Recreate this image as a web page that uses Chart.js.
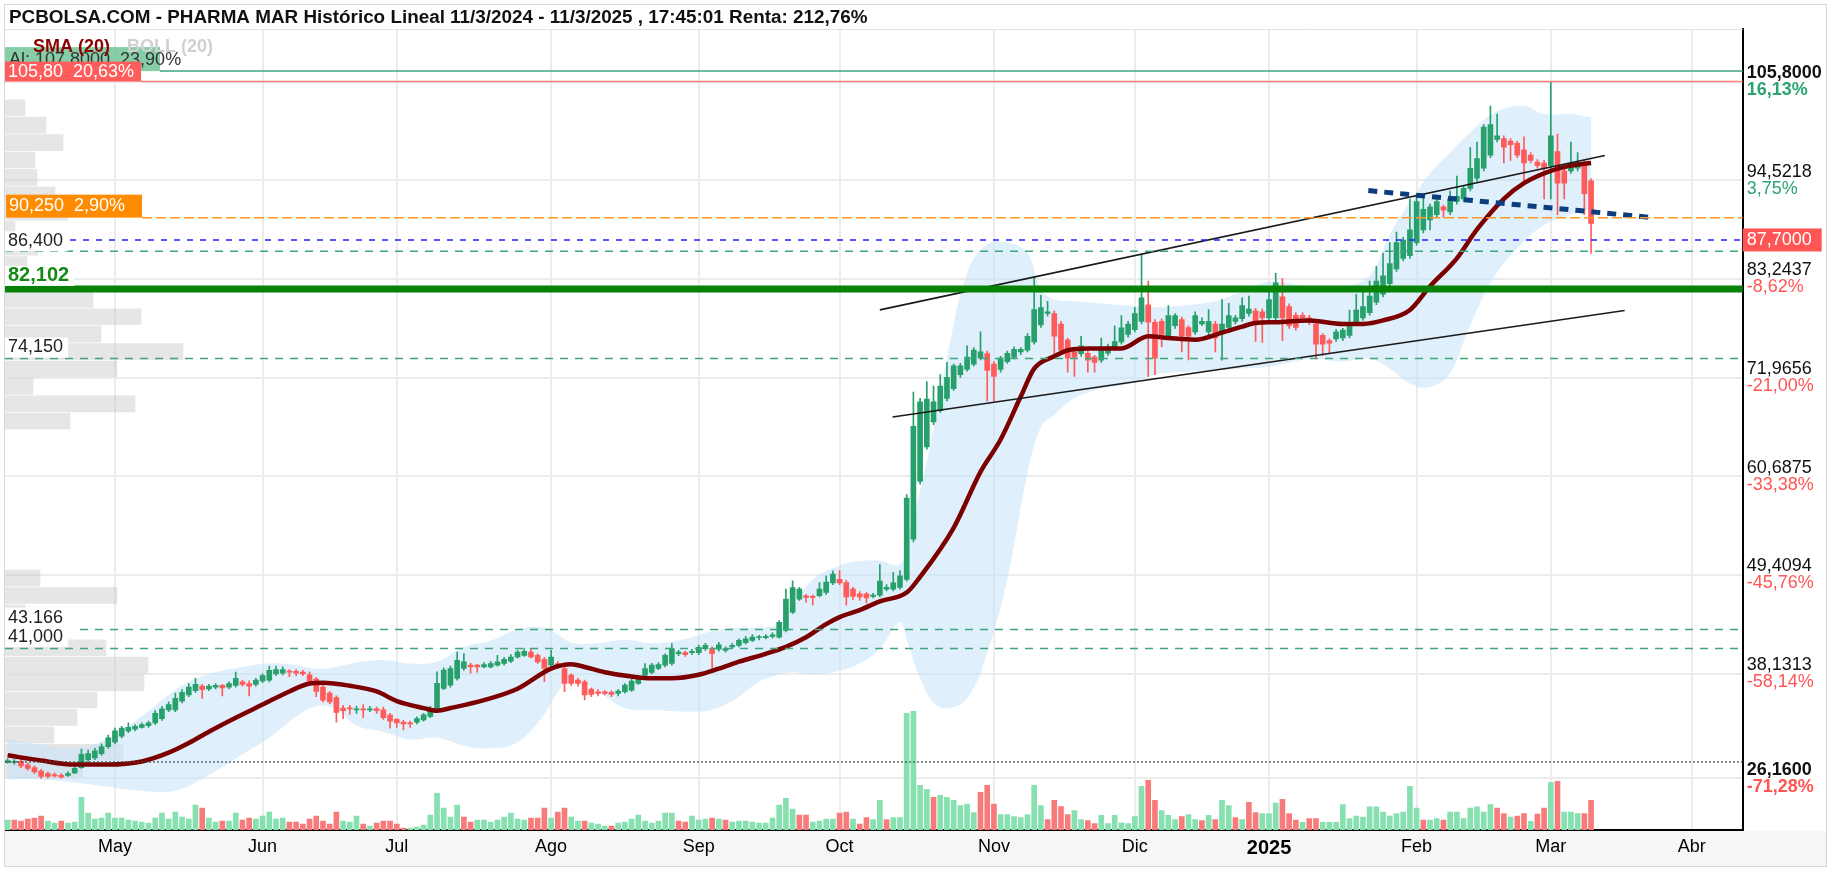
<!DOCTYPE html>
<html>
<head>
<meta charset="utf-8">
<script src="https://cdn.jsdelivr.net/npm/chart.js@4.4.1/dist/chart.umd.min.js"></script>
<style>
  html, body { margin: 0; padding: 0; background: #fff; }
</style>
</head>
<body>
<canvas id="c" width="1832" height="872"></canvas>
<script>
// sesiones desde el 9/4/2024 (indice 0) hasta el 11/3/2025 (indice 236)
const monthTicks = [16, 38, 58, 81, 103, 124, 147, 168, 188, 210, 230, 251];
const monthLabels = ['May', 'Jun', 'Jul', 'Ago', 'Sep', 'Oct', 'Nov', 'Dic', '2025', 'Feb', 'Mar', 'Abr'];

const opens = [
  28.0, 28.0, 28.1, 27.7, 27.4, 27.0, 26.7, 26.6, 26.5, 26.5,
  26.8, 27.4, 28.3, 28.5, 29.0, 29.8, 30.3, 31.0, 31.6, 31.8,
  32.0, 32.2, 32.5, 33.0, 34.0, 34.0, 35.0, 35.7, 36.2, 36.7,
  36.4, 36.6, 36.8, 36.6, 36.8, 37.2, 37.0, 36.9, 37.3, 37.4,
  38.1, 38.2, 38.4, 38.4, 38.3, 38.0, 37.5, 36.6, 35.9, 35.4,
  34.2, 34.2, 34.0, 34.1, 34.0, 34.1, 34.0, 33.4, 32.9, 32.6,
  32.5, 32.6, 32.86, 33.24, 34.18, 36.45, 36.83, 37.59, 38.72, 39.1,
  39.1, 38.91, 38.91, 39.1, 39.29, 39.55, 40.04, 40.23, 40.61, 40.23,
  39.78, 39.1, 39.29, 38.72, 37.96, 37.4, 37.21, 36.38, 36.07, 36.07,
  36.0, 35.88, 36.07, 36.26, 37.02, 37.96, 38.27, 38.72, 39.1, 39.29,
  40.42, 40.54, 40.54, 40.54, 40.99, 40.99, 40.92, 40.8, 41.18, 41.37,
  41.67, 41.93, 42.24, 42.24, 42.39, 42.31, 43.07, 45.15, 46.66, 47.04,
  46.96, 47.04, 47.42, 48.5, 48.9, 48.55, 47.8, 47.25, 47.25, 46.97,
  47.1, 47.8, 47.8, 48.0, 48.9, 53.5, 60.1, 64.05, 66.9, 68.2,
  69.6, 70.7, 72.3, 72.9, 73.5, 74.2, 74.7, 73.5, 72.9, 73.8,
  74.3, 74.9, 75.1, 76.05, 77.99, 79.3, 79.3, 78.1, 76.3, 74.9,
  74.7, 74.75, 74.3, 73.96, 74.75, 75.35, 76.05, 76.9, 77.44, 78.4,
  80.3, 78.3, 78.4, 76.74, 77.9, 78.6, 77.7, 77.2, 78.1, 77.2,
  78.1, 77.2, 77.7, 78.4, 78.7, 79.3, 79.6, 79.5, 78.8, 78.8,
  81.2, 80.1, 79.1, 79.1, 78.8, 78.1, 76.8, 76.2, 76.4, 76.5,
  76.8, 78.3, 78.8, 79.4, 80.6, 81.5, 82.7, 84.4, 85.6, 85.9,
  87.4, 88.85, 90.0, 90.6, 91.5, 90.9, 92.1, 92.4, 93.6, 94.75,
  95.9, 97.4, 99.2, 99.3, 99.0, 98.75, 98.0, 97.4, 96.6, 96.5,
  96.2, 97.8, 95.6, 95.6, 95.9, 96.5, 94.45
];
const highs = [
  28.4, 28.3, 28.3, 27.9, 27.6, 27.2, 26.9, 26.8, 26.7, 26.9,
  27.5, 29.5, 29.4, 29.6, 30.1, 31.1, 31.9, 32.1, 32.5, 32.3,
  32.5, 32.7, 33.9, 34.4, 34.9, 35.9, 36.3, 37.0, 37.6, 36.9,
  36.9, 37.0, 36.9, 37.2, 38.3, 37.4, 37.3, 37.6, 38.1, 39.0,
  39.0, 38.9, 38.6, 38.6, 38.5, 38.3, 37.7, 36.8, 36.1, 35.6,
  34.5, 34.5, 34.4, 34.6, 34.4, 34.3, 34.3, 33.6, 33.0, 32.8,
  32.7, 33.2, 33.6, 34.4, 38.34, 38.8, 39.0, 40.61, 40.42, 39.3,
  39.2, 39.4, 39.5, 40.23, 40.0, 40.3, 40.8, 41.0, 40.9, 40.4,
  40.0, 40.8, 39.5, 38.9, 38.1, 37.6, 37.4, 36.5, 36.3, 36.2,
  36.2, 36.3, 37.0, 37.5, 37.9, 39.29, 39.3, 39.4, 40.4, 41.56,
  40.8, 40.7, 40.9, 41.4, 41.6, 41.2, 41.7, 41.2, 41.6, 42.1,
  42.4, 42.6, 42.5, 42.6, 42.8, 44.2, 47.8, 48.74, 48.0, 47.2,
  47.1, 48.55, 49.31, 49.88, 49.9, 48.8, 48.0, 47.5, 47.4, 47.3,
  50.6, 48.3, 49.7, 49.9, 58.6, 70.3, 69.6, 71.5, 71.0, 72.3,
  73.7, 73.5, 73.6, 75.6, 75.4, 77.2, 75.0, 73.8, 74.4, 75.0,
  75.5, 75.4, 77.0, 83.45, 81.37, 80.7, 79.6, 78.4, 76.5, 75.1,
  76.7, 75.0, 74.5, 76.5, 75.8, 77.9, 79.06, 78.4, 80.0, 86.1,
  83.0, 78.6, 78.7, 80.2, 79.3, 78.9, 77.9, 79.5, 78.8, 79.75,
  78.4, 80.9, 80.45, 79.1, 81.1, 81.3, 79.9, 79.8, 82.1, 83.9,
  83.3, 80.4, 79.4, 79.4, 79.1, 78.3, 77.0, 76.4, 77.5, 77.6,
  79.7, 81.5, 82.4, 83.0, 84.7, 86.2, 87.4, 88.6, 88.0, 92.4,
  92.9, 92.9, 91.8, 92.4, 91.7, 93.3, 95.0, 93.9, 98.3, 98.9,
  100.9, 103.0, 102.1, 99.6, 99.3, 99.0, 99.5, 97.7, 96.9, 96.8,
  105.8, 99.8, 95.9, 98.9, 97.7, 96.8, 94.7
];
const lows = [
  27.9, 27.8, 27.4, 27.1, 26.7, 26.16, 26.2, 26.3, 26.2, 26.4,
  26.7, 27.3, 28.0, 28.3, 28.8, 29.6, 30.1, 30.8, 31.4, 31.6,
  31.9, 32.0, 32.3, 32.8, 33.8, 33.8, 34.8, 35.5, 36.0, 35.3,
  36.2, 36.4, 35.6, 36.4, 36.6, 36.7, 35.6, 36.7, 37.1, 37.2,
  37.9, 38.0, 37.8, 37.9, 37.9, 37.1, 35.5, 34.9, 34.7, 32.6,
  33.0, 33.5, 33.6, 33.1, 33.8, 33.6, 32.9, 31.9, 32.0, 31.7,
  32.0, 32.4, 32.7, 33.1, 34.0, 36.3, 36.6, 37.4, 38.5, 38.2,
  38.3, 38.8, 38.8, 39.0, 39.1, 39.4, 39.9, 40.1, 39.9, 39.3,
  37.21, 38.9, 38.7, 36.07, 36.8, 36.7, 35.13, 35.5, 35.6, 35.7,
  35.5, 35.6, 35.9, 36.1, 36.9, 37.8, 38.1, 38.6, 38.9, 39.1,
  40.2, 40.1, 40.3, 40.3, 40.8, 38.72, 40.7, 40.6, 41.0, 41.2,
  41.5, 41.8, 42.0, 42.1, 42.2, 42.2, 42.9, 45.0, 46.5, 46.3,
  46.0, 46.9, 47.2, 48.3, 48.3, 45.95, 46.6, 46.5, 46.2, 46.8,
  46.9, 47.6, 47.6, 47.8, 48.7, 53.2, 59.8, 63.8, 66.6, 68.0,
  69.3, 70.5, 72.0, 72.7, 73.3, 74.0, 69.3, 69.3, 72.6, 73.6,
  74.1, 74.6, 74.9, 75.8, 77.7, 79.0, 74.7, 74.9, 72.6, 72.1,
  74.4, 72.6, 72.6, 73.7, 74.5, 75.1, 75.8, 76.6, 77.2, 78.1,
  72.1, 72.3, 75.5, 76.5, 77.6, 74.9, 74.0, 76.9, 77.9, 76.5,
  74.9, 73.96, 77.4, 78.1, 78.4, 79.0, 76.1, 76.0, 78.5, 78.5,
  76.2, 77.6, 77.4, 78.4, 78.0, 74.1, 74.5, 74.7, 76.1, 76.2,
  76.5, 78.0, 78.5, 79.1, 80.3, 81.2, 82.4, 84.1, 85.3, 85.6,
  87.1, 88.5, 88.85, 90.3, 90.3, 90.6, 91.8, 92.1, 93.3, 94.4,
  95.6, 97.1, 98.9, 96.5, 96.8, 97.1, 94.2, 96.5, 95.9, 92.4,
  92.4, 90.6, 92.4, 95.3, 95.6, 90.6, 86.2
];
const closes = [
  28.2, 28.1, 27.6, 27.3, 26.9, 26.4, 26.4, 26.45, 26.3, 26.7,
  27.3, 28.9, 29.0, 29.3, 29.8, 30.8, 31.6, 31.9, 32.0, 32.1,
  32.3, 32.5, 33.6, 34.1, 34.6, 35.3, 36.0, 36.6, 36.9, 36.3,
  36.7, 36.8, 36.5, 37.0, 37.6, 36.9, 36.7, 37.4, 37.9, 38.5,
  38.6, 38.6, 38.3, 38.2, 38.1, 37.3, 36.1, 35.1, 34.9, 33.7,
  33.9, 34.1, 34.1, 34.0, 34.1, 33.9, 33.1, 32.7, 32.5, 32.4,
  32.4, 33.0, 33.43, 34.18, 37.02, 38.53, 38.72, 39.67, 39.48, 38.91,
  38.91, 39.17, 39.29, 39.48, 39.78, 40.04, 40.61, 40.69, 40.04, 39.48,
  38.72, 40.04, 38.91, 37.02, 37.02, 37.02, 35.7, 35.77, 35.88, 35.88,
  35.77, 36.15, 36.83, 37.28, 37.66, 38.72, 39.1, 39.17, 40.23, 40.99,
  40.61, 40.31, 40.69, 41.14, 41.37, 40.42, 41.44, 40.99, 41.37, 41.93,
  42.12, 42.31, 42.31, 42.39, 42.58, 44.01, 46.66, 47.98, 47.8, 46.85,
  46.85, 47.8, 48.6, 49.5, 48.5, 46.9, 46.95, 46.9, 46.8, 47.11,
  48.7, 48.0, 48.5, 49.3, 58.2, 66.4, 69.2, 69.5, 69.2, 71.0,
  72.0, 73.3, 73.3, 74.3, 75.1, 74.9, 72.8, 72.1, 74.2, 74.75,
  75.2, 75.2, 76.7, 79.75, 79.98, 79.5, 76.7, 75.1, 74.2, 74.3,
  75.6, 73.96, 73.7, 75.1, 75.5, 76.1, 77.67, 78.1, 79.3, 81.1,
  78.3, 74.2, 76.9, 79.06, 79.06, 76.7, 76.7, 79.06, 78.4, 78.4,
  76.5, 78.1, 79.06, 78.8, 80.2, 79.8, 78.2, 78.8, 80.9, 82.8,
  78.8, 77.9, 77.7, 78.8, 78.3, 75.8, 75.8, 75.9, 77.2, 77.4,
  78.0, 79.7, 80.1, 81.3, 83.0, 83.6, 85.0, 87.4, 87.7, 88.85,
  92.1, 91.2, 91.5, 92.1, 91.1, 92.4, 92.7, 93.6, 95.9, 97.0,
  100.6, 100.9, 99.6, 98.3, 98.6, 97.4, 96.5, 96.8, 96.2, 95.9,
  99.6, 94.2, 94.2, 96.2, 96.6, 93.0, 89.6
];
// volumen en miles de titulos
const volumes = [
  120, 120, 108, 132, 144, 168, 108, 84, 108, 84,
  96, 396, 204, 132, 144, 204, 144, 144, 120, 108,
  96, 84, 144, 204, 132, 216, 156, 132, 300, 264,
  144, 96, 108, 108, 204, 120, 144, 132, 168, 216,
  132, 144, 96, 96, 72, 132, 168, 108, 72, 216,
  108, 96, 168, 72, 48, 84, 108, 108, 72, 24,
  24, 36, 60, 180, 444, 264, 156, 300, 156, 96,
  120, 120, 96, 120, 156, 204, 132, 120, 144, 144,
  264, 144, 216, 264, 156, 108, 108, 84, 72, 48,
  48, 84, 96, 132, 180, 108, 84, 108, 204, 204,
  108, 96, 168, 120, 132, 144, 132, 120, 96, 108,
  108, 96, 84, 84, 144, 300, 384, 252, 180, 180,
  96, 108, 132, 132, 204, 216, 132, 72, 151, 127,
  360, 127, 151, 151, 1410, 1435, 540, 492, 396, 420,
  396, 360, 294, 312, 210, 456, 540, 312, 186, 186,
  162, 151, 186, 540, 294, 127, 360, 284, 186, 235,
  127, 113, 78, 176, 78, 176, 88, 78, 162, 528,
  600, 360, 235, 176, 127, 162, 186, 127, 113, 176,
  127, 360, 294, 151, 127, 336, 210, 199, 199, 324,
  372, 199, 120, 94, 137, 137, 94, 94, 94, 306,
  137, 168, 156, 281, 281, 216, 168, 199, 216, 528,
  264, 120, 120, 137, 120, 216, 216, 137, 264, 281,
  216, 306, 264, 199, 156, 168, 199, 106, 192, 264,
  576, 588, 216, 216, 199, 199, 360
];

// media movil 20 y bandas de Bollinger
const smaIdx = [0, 5, 10, 15, 20, 24, 27, 30, 34, 38, 42, 45, 47, 51, 55, 58, 62, 64, 66, 71,
  76, 81, 84, 86, 89, 93, 96, 99, 103, 106, 109, 113, 116, 119, 122, 124, 127, 130, 134, 136,
  141, 145, 148, 151, 153, 156, 158, 161, 166, 170, 173, 177, 181, 184, 186, 189, 194, 199, 202, 205,
  209, 212, 216, 219, 223, 226, 230, 233, 236];
const smaVal = [28.8, 28.2, 27.75, 27.75, 28.1, 29.1, 30.2, 31.5, 33.1, 34.6, 36.1, 37.0, 37.1, 36.75, 36.1, 35.0, 34.2, 33.9, 34.2, 35.1,
  36.4, 38.7, 39.2, 38.9, 38.3, 37.8, 37.6, 37.6, 38.0, 38.7, 39.5, 40.4, 41.2, 42.3, 43.8, 44.6, 45.4, 46.4, 47.4, 49.2,
  54.8, 61.2, 64.9, 69.8, 73.0, 74.4, 75.1, 75.3, 75.3, 76.7, 76.5, 76.3, 77.1, 77.8, 78.2, 78.3, 78.5, 78.1, 78.1, 78.5,
  79.7, 82.4, 85.6, 88.9, 92.4, 94.2, 95.6, 96.2, 96.5];

const bandIdx = [0, 5, 10, 14, 19, 24, 27, 31, 35, 39, 43, 46, 49, 52, 56, 60, 64, 68, 72, 76,
  80, 82, 84, 88, 92, 96, 101, 105, 109, 112, 115, 117, 120, 124, 127, 130, 133, 134, 136, 138,
  140, 143, 146, 149, 152, 154, 156, 159, 163, 167, 171, 175, 180, 184, 188, 194, 199, 203, 206, 209,
  212, 215, 218, 222, 226, 229, 233, 236];
const bandUp = [30.6, 30.0, 29.6, 30.4, 32.7, 35.7, 37.2, 38.3, 38.9, 39.3, 39.1, 38.7, 38.9, 39.4, 39.7, 39.3, 39.5, 41.2, 41.9, 43.2,
  43.4, 42.6, 41.7, 41.6, 42.0, 41.6, 42.1, 43.0, 43.4, 43.4, 43.8, 45.8, 48.9, 50.5, 51.0, 51.05, 50.6, 53.0, 59.0, 66.0,
  74.2, 83.9, 87.2, 87.4, 86.2, 82.1, 80.9, 80.7, 80.45, 80.2, 80.0, 80.2, 80.7, 81.8, 82.96, 82.4, 82.4, 83.6, 88.3, 92.0,
  95.3, 97.7, 100.0, 102.4, 103.0, 102.1, 102.1, 101.7];
const bandLo = [26.05, 26.05, 25.7, 25.3, 24.8, 24.65, 25.3, 27.0, 28.9, 30.8, 33.2, 34.4, 34.0, 32.2, 31.5, 30.6, 30.8, 29.9, 29.6, 30.3,
  33.5, 36.0, 37.5, 36.1, 34.2, 34.0, 33.8, 34.0, 35.5, 37.2, 38.0, 38.3, 38.0, 38.5, 39.3, 41.0, 44.0, 42.0, 37.6, 34.8,
  34.2, 35.3, 40.5, 49.0, 61.0, 66.3, 67.7, 69.6, 70.7, 71.2, 72.3, 72.6, 72.8, 73.0, 73.2, 74.1, 73.8, 74.1, 73.0, 71.3,
  70.9, 72.5, 78.0, 84.0, 87.5, 89.4, 90.6, 91.2];

// perfil de volumen: 40 tramos de precio entre el minimo y el maximo
const profileLow = 26.16;
const profileStep = 1.991;
const profileVol = [3850, 5900, 2450, 3600, 4600, 6950, 7150, 5050, 1500, 1000,
  5600, 1750, 0, 0, 0, 0, 0, 0, 0, 0,
  3250, 6500, 1400, 5600, 8900, 4800, 6800, 4400, 1500, 1100,
  1650, 500, 3150, 2500, 1600, 1500, 2900, 2050, 1000, 0];

// lineas de tendencia (sesion, precio)
const channelTop = [[130.0, 79.71], [238.06, 97.36]];
const channelBottom = [[131.9, 67.46], [241.0, 79.64]];
const resistance = [[202.8, 93.34], [245.0, 90.27]];

// niveles horizontales
const levelValues = [107.0, 105.8, 90.25, 87.7, 86.4, 82.102, 74.15, 43.166, 41.0, 28.04];
const lastPrice = 87.7;

const yTicks = [105.8, 94.5218, 83.2437, 71.9656, 60.6875, 49.4094, 38.1313, 26.16];
const yTickPct = ['16,13%', '3,75%', '-8,62%', '-21,00%', '-33,38%', '-45,76%', '-58,14%', '-71,28%'];

// ---- estilos ----
const FONT = 'Arial, "Liberation Sans", Helvetica, sans-serif';
Chart.defaults.font.family = FONT;
Chart.defaults.color = '#000';

const GREEN = '#27a06b', RED = '#ff5b5b';
const VGREEN = '#86e0b0', VRED = '#f87b7b';
const TXT_GREEN = '#2ba470', TXT_RED = '#ff5555';

const levelStyles = [
  { color: '#3fa57a', width: 1.5, dash: [], from: 160 },
  { color: '#ff7f7f', width: 1.5, dash: [], from: 141 },
  { color: '#ff9626', width: 1.5, dash: [10, 4], from: 142 },
  { color: '#2020ff', width: 1.5, dash: [6, 7], from: 5 },
  { color: '#3fa57a', width: 1.5, dash: [8, 7], from: 5 },
  { color: '#078207', width: 7, dash: [], from: 5 },
  { color: '#3fa57a', width: 1.5, dash: [8, 7], from: 5 },
  { color: '#3fa57a', width: 1.5, dash: [8, 7], from: 80 },
  { color: '#3fa57a', width: 1.5, dash: [8, 7], from: 5 },
  { color: '#444', width: 1.2, dash: [2, 2], from: 5 }
];

const levelTags = [
  { value: 86.4, text: '86,400', font: '18px ' + FONT, color: '#222', dy: -10 },
  { value: 82.102, text: '82,102', font: 'bold 20px ' + FONT, color: '#138a13', dy: -13 },
  { value: 74.15, text: '74,150', font: '18px ' + FONT, color: '#222', dy: -11 },
  { value: 43.166, text: '43.166', font: '18px ' + FONT, color: '#222', dy: -12 },
  { value: 41.0, text: '41,000', font: '18px ' + FONT, color: '#222', dy: -11.5 }
];

const upDay = (i) => closes[i] >= opens[i];
const volUp = (i) => i === 0 ? upDay(0) : closes[i] >= closes[i - 1];
const sessions = opens.map((_, i) => i);
const fmt4 = (v) => v.toFixed(4).replace('.', ',');

function text(ctx, s, x, y, font, color, align) {
  ctx.font = font;
  ctx.fillStyle = color;
  ctx.textAlign = align || 'left';
  ctx.textBaseline = 'middle';
  ctx.fillText(s, x, y);
}

const decor = {
  id: 'decor',
  beforeDraw(chart) {
    const ctx = chart.ctx;
    ctx.save();
    ctx.fillStyle = '#fff';
    ctx.fillRect(0, 0, chart.width, chart.height);
    ctx.fillStyle = '#f6f6f6';
    ctx.fillRect(5, chart.chartArea.bottom + 1, 1822, 866 - chart.chartArea.bottom - 1);
    ctx.restore();
  },
  afterDatasetsDraw(chart) {
    const ctx = chart.ctx;
    const sy = chart.scales.y;
    const right = chart.chartArea.right;
    ctx.save();
    levelValues.forEach((v, k) => {
      const st = levelStyles[k];
      const py = sy.getPixelForValue(v);
      ctx.beginPath();
      ctx.strokeStyle = st.color;
      ctx.lineWidth = st.width;
      ctx.setLineDash(st.dash);
      ctx.moveTo(st.from, py);
      ctx.lineTo(right, py);
      ctx.stroke();
    });
    ctx.restore();
  },
  afterDraw(chart) {
    const ctx = chart.ctx;
    const sy = chart.scales.y;
    const area = chart.chartArea;
    ctx.save();

    // etiquetas de niveles a la izquierda
    levelTags.forEach(t => {
      const py = sy.getPixelForValue(t.value) + t.dy;
      ctx.font = t.font;
      const w = ctx.measureText(t.text).width;
      ctx.fillStyle = '#fff';
      ctx.fillRect(area.left, py - 10, w + 8, 20);
      text(ctx, t.text, area.left + 3, py, t.font, t.color);
    });

    const f18 = '18px ' + FONT;
    const b18 = 'bold 18px ' + FONT;

    // caja verde "Al:"
    let py = sy.getPixelForValue(107.0);
    ctx.fillStyle = 'rgba(112,198,152,0.85)';
    ctx.fillRect(area.left, py - 24, 155, 24);
    text(ctx, 'Al: 107,8000  23,90%', area.left + 4, py - 11, f18, '#333');
    text(ctx, 'SMA (20)', 33, 47, b18, '#8b0000');
    text(ctx, 'BOLL (20)', 127, 47, b18, '#d0d0d0');

    // caja roja 105,80
    py = sy.getPixelForValue(105.8);
    ctx.fillStyle = '#ff5c5c';
    ctx.fillRect(area.left, py - 20, 136, 20);
    text(ctx, '105,80  20,63%', area.left + 3, py - 10, f18, '#fff');

    // caja naranja 90,250
    py = sy.getPixelForValue(90.25);
    ctx.fillStyle = '#ff8c00';
    ctx.fillRect(area.left + 1, py - 23, 136, 23);
    text(ctx, '90,250  2,90%', area.left + 4, py - 11.5, f18, '#fff');

    // eje derecho: precio y porcentaje
    yTicks.forEach((v, k) => {
      const p = sy.getPixelForValue(v);
      const edge = k === 0 || k === yTicks.length - 1;
      const pct = yTickPct[k];
      text(ctx, fmt4(v), area.right + 4, p - 8.5, edge ? b18 : f18, '#111');
      text(ctx, pct, area.right + 4, p + 8.5, edge ? b18 : f18, pct.charAt(0) === '-' ? TXT_RED : TXT_GREEN);
    });

    // ultimo precio
    py = sy.getPixelForValue(lastPrice);
    ctx.fillStyle = '#ff5555';
    ctx.fillRect(area.right, py - 11.5, 79, 23);
    text(ctx, fmt4(lastPrice), area.right + 4, py + 0.5, f18, '#fff');

    // titulo
    const title = 'PCBOLSA.COM - PHARMA MAR Histórico Lineal 11/3/2024 - 11/3/2025 , 17:45:01 Renta: 212,76%';
    ctx.font = 'bold 17px ' + FONT;
    const size = 17 * 859 / ctx.measureText(title).width;
    text(ctx, title, 9, 18, 'bold ' + size.toFixed(2) + 'px ' + FONT, '#111');

    // marcos
    ctx.strokeStyle = '#e2e2e2';
    ctx.lineWidth = 1;
    ctx.beginPath();
    ctx.moveTo(area.left, area.top + 0.5);
    ctx.lineTo(area.right, area.top + 0.5);
    ctx.stroke();
    ctx.strokeStyle = '#d8d8d8';
    ctx.strokeRect(4.5, 4.5, 1822, 862);
    ctx.restore();
  }
};

new Chart(document.getElementById('c'), {
  type: 'bar',
  data: {
    datasets: [
      {
        type: 'bar', label: 'Perfil', indexAxis: 'y', xAxisID: 'xp', yAxisID: 'y',
        data: profileVol.map((v, k) => ({ x: [0, v], y: profileLow + profileStep * (k + 0.5) })).filter(d => d.x[1] > 0),
        backgroundColor: 'rgba(196,196,196,0.42)', barThickness: 16, grouped: false, order: 20
      },
      {
        type: 'line', label: 'BOLL sup', xAxisID: 'x', yAxisID: 'y',
        data: bandIdx.map((x, j) => ({ x, y: bandUp[j] })),
        borderWidth: 0, pointRadius: 0, tension: 0.4, fill: false, order: 19
      },
      {
        type: 'line', label: 'BOLL inf', xAxisID: 'x', yAxisID: 'y',
        data: bandIdx.map((x, j) => ({ x, y: bandLo[j] })),
        borderWidth: 0, pointRadius: 0, tension: 0.4, fill: '-1',
        backgroundColor: 'rgba(196,228,250,0.55)', order: 18
      },
      {
        type: 'bar', label: 'Volumen', xAxisID: 'x', yAxisID: 'yv',
        data: sessions.map(i => ({ x: i, y: volumes[i] })),
        backgroundColor: c => volUp(c.dataIndex) ? VGREEN : VRED,
        barThickness: 5, grouped: false, order: 17
      },
      {
        type: 'bar', label: 'Mecha', xAxisID: 'x', yAxisID: 'y',
        data: sessions.map(i => ({ x: i, y: [lows[i], highs[i]] })),
        backgroundColor: c => upDay(c.dataIndex) ? GREEN : RED,
        barThickness: 1, grouped: false, order: 16
      },
      {
        type: 'bar', label: 'Cuerpo', xAxisID: 'x', yAxisID: 'y',
        data: sessions.map(i => ({ x: i, y: [opens[i], closes[i]] })),
        backgroundColor: c => upDay(c.dataIndex) ? GREEN : RED,
        barThickness: 5, minBarLength: 1, grouped: false, order: 15
      },
      {
        type: 'line', label: 'SMA (20)', xAxisID: 'x', yAxisID: 'y',
        data: smaIdx.map((x, j) => ({ x, y: smaVal[j] })),
        borderColor: '#7d0000', borderWidth: 4.5, pointRadius: 0,
        cubicInterpolationMode: 'monotone', fill: false, order: 14
      },
      {
        type: 'line', label: 'Canal sup', xAxisID: 'x', yAxisID: 'y',
        data: channelTop.map(p => ({ x: p[0], y: p[1] })),
        borderColor: '#1a1a1a', borderWidth: 1.6, pointRadius: 0, fill: false, order: 13
      },
      {
        type: 'line', label: 'Canal inf', xAxisID: 'x', yAxisID: 'y',
        data: channelBottom.map(p => ({ x: p[0], y: p[1] })),
        borderColor: '#1a1a1a', borderWidth: 1.6, pointRadius: 0, fill: false, order: 12
      },
      {
        type: 'line', label: 'Resistencia', xAxisID: 'x', yAxisID: 'y',
        data: resistance.map(p => ({ x: p[0], y: p[1] })),
        borderColor: '#0c3d7d', borderWidth: 5, borderDash: [9, 7], pointRadius: 0, fill: false, order: 11
      }
    ]
  },
  options: {
    responsive: false,
    animation: false,
    events: [],
    layout: { padding: { left: 5, right: 89.3, top: 29, bottom: 6 } },
    plugins: { legend: { display: false }, tooltip: { enabled: false }, title: { display: false } },
    scales: {
      x: {
        type: 'linear', min: -0.39, max: 258.6, offset: false,
        afterBuildTicks: s => { s.ticks = monthTicks.map(v => ({ value: v })); },
        ticks: {
          autoSkip: false, maxRotation: 0, padding: 6, color: '#000',
          font: c => (c.tick && c.tick.value === 188) ? { size: 20, weight: 'bold' } : { size: 18 },
          callback: v => monthLabels[monthTicks.indexOf(v)]
        },
        grid: { color: '#ececec', lineWidth: 2, drawTicks: false, offset: false },
        border: { display: true, color: '#000', width: 2 }
      },
      y: {
        type: 'linear', position: 'right', min: 20.265, max: 111.81, offset: false,
        afterBuildTicks: s => { s.ticks = yTicks.map(v => ({ value: v })); },
        ticks: { display: false },
        grid: { color: '#ececec', lineWidth: 2, drawTicks: false, offset: false },
        border: { display: true, color: '#000', width: 2 }
      },
      yv: { type: 'linear', display: false, min: 0, max: 9684, offset: false },
      xp: { type: 'linear', display: false, min: 0, max: 86900, offset: false, grid: { offset: false } }
    }
  },
  plugins: [decor]
});
</script>
</body>
</html>
